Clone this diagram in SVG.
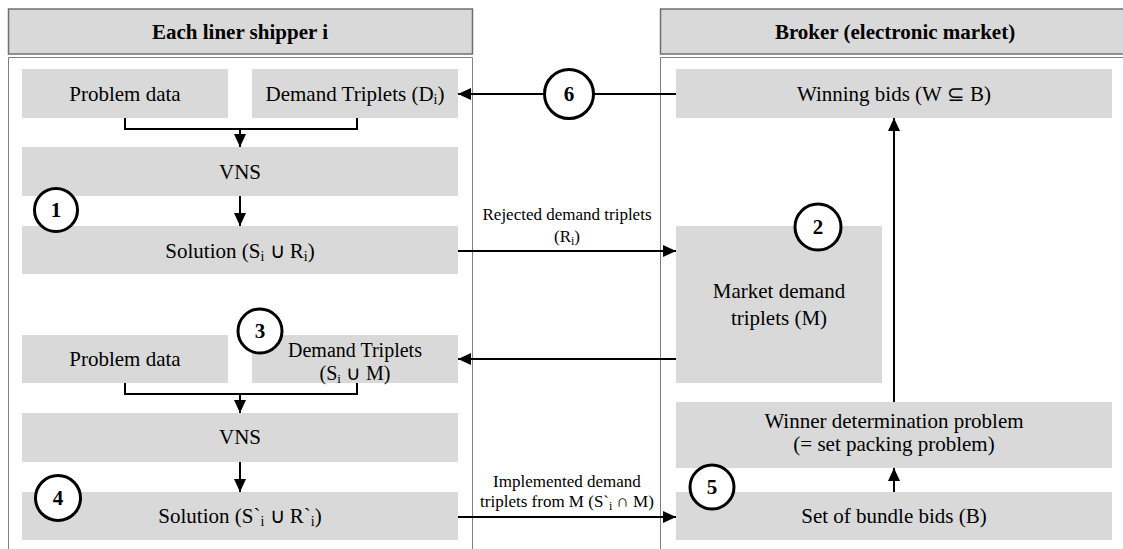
<svg xmlns="http://www.w3.org/2000/svg" width="1123" height="549" viewBox="0 0 1123 549">
<style>
.hdr{fill:#d9d9d9;stroke:#6f6f6f;stroke-width:1.5}
.panel{fill:none;stroke:#7f7f7f;stroke-width:1}
.box{fill:#d9d9d9}
text{font-family:"Liberation Serif","Times New Roman",serif;fill:#000}
.t{font-size:21px;text-anchor:middle}
.s{font-size:20px;text-anchor:middle}
.h{font-size:21px;font-weight:bold;text-anchor:middle}
.l{font-size:17px;text-anchor:middle}
.n{font-size:21px;font-weight:bold;text-anchor:middle}
.c{fill:#fff;stroke:#000;stroke-width:3}
.ln{fill:none;stroke:#000;stroke-width:2}
</style>
<defs>
<marker id="ah" markerUnits="userSpaceOnUse" markerWidth="14" markerHeight="12" refX="13" refY="6" orient="auto">
<path d="M0,0 L13,6 L0,12 Z" fill="#000"/>
</marker>
</defs>
<rect width="1123" height="549" fill="#fff"/>
<g id="panel-left">
<rect class="hdr" x="8.5" y="9" width="464" height="45"/>
<path class="panel" d="M8.5,549 V57.5 H472.5 V549"/>
<text class="h" x="240" y="39">Each liner shipper i</text>
</g>
<g id="panel-right">
<rect class="hdr" x="660.5" y="9" width="470" height="45"/>
<path class="panel" d="M660.5,549 V57.5 H1130"/>
<text class="h" x="895" y="39">Broker (electronic market)</text>
</g>
<g id="connectors">
<path class="ln" d="M125,118 V129 H357 V118"/>
<path class="ln" d="M240,129 V147" marker-end="url(#ah)"/>
<path class="ln" d="M240,196 V226" marker-end="url(#ah)"/>
<path class="ln" d="M458,251 H676" marker-end="url(#ah)"/>
<path class="ln" d="M676,94 H594"/>
<path class="ln" d="M544,94 H458" marker-end="url(#ah)"/>
<path class="ln" d="M676,359 H458" marker-end="url(#ah)"/>
<path class="ln" d="M125,383 V394 H357 V383"/>
<path class="ln" d="M240,394 V413" marker-end="url(#ah)"/>
<path class="ln" d="M240,462 V492" marker-end="url(#ah)"/>
<path class="ln" d="M458,517 H676" marker-end="url(#ah)"/>
<path class="ln" d="M894,492 V468" marker-end="url(#ah)"/>
<path class="ln" d="M894,402 V118" marker-end="url(#ah)"/>
<text class="l" x="567" y="220">Rejected demand triplets</text>
<text class="l" x="567" y="242">(R<tspan font-size="12" dy="3">i</tspan><tspan dy="-3">)</tspan></text>
<text class="l" x="567" y="487">Implemented demand</text>
<text class="l" x="567" y="507">triplets from M (S`<tspan font-size="12" dy="3">i</tspan><tspan dy="-3"> ∩ M)</tspan></text>
</g>
<g id="problem-data-1">
<rect class="box" x="22" y="69" width="206" height="49"/>
<text class="t" x="125" y="101">Problem data</text>
</g>
<g id="demand-triplets-1">
<rect class="box" x="252" y="69" width="206" height="49"/>
<text class="t" x="355" y="101">Demand Triplets (D<tspan font-size="14" dy="3">i</tspan><tspan dy="-3">)</tspan></text>
</g>
<g id="vns-1">
<rect class="box" x="22" y="147" width="436" height="49"/>
<text class="t" x="240" y="179">VNS</text>
</g>
<g id="solution-1">
<rect class="box" x="22" y="226" width="436" height="48"/>
<text class="t" x="240" y="258">Solution (S<tspan font-size="14" dy="3">i</tspan><tspan dy="-3"> ∪ R</tspan><tspan font-size="14" dy="3">i</tspan><tspan dy="-3">)</tspan></text>
</g>
<g id="problem-data-2">
<rect class="box" x="22" y="335" width="206" height="48"/>
<text class="t" x="125" y="366">Problem data</text>
</g>
<g id="demand-triplets-2">
<rect class="box" x="252" y="335" width="206" height="48"/>
<text class="s" x="355" y="357">Demand Triplets</text>
<text class="s" x="355" y="380">(S<tspan font-size="13" dy="3">i</tspan><tspan dy="-3"> ∪ M)</tspan></text>
</g>
<g id="vns-2">
<rect class="box" x="22" y="413" width="436" height="49"/>
<text class="t" x="240" y="444">VNS</text>
</g>
<g id="solution-2">
<rect class="box" x="22" y="492" width="436" height="48"/>
<text class="t" x="240" y="523">Solution (S`<tspan font-size="14" dy="3">i</tspan><tspan dy="-3"> ∪ R`</tspan><tspan font-size="14" dy="3">i</tspan><tspan dy="-3">)</tspan></text>
</g>
<g id="winning-bids">
<rect class="box" x="676" y="69" width="436" height="49"/>
<text class="t" x="894" y="101">Winning bids (W ⊆ B)</text>
</g>
<g id="market-demand">
<rect class="box" x="676" y="226" width="206" height="157"/>
<text class="t" x="779" y="298">Market demand</text>
<text class="t" x="779" y="325">triplets (M)</text>
</g>
<g id="winner-determination">
<rect class="box" x="676" y="402" width="436" height="66"/>
<text class="t" x="894" y="428">Winner determination problem</text>
<text class="t" x="894" y="451">(= set packing problem)</text>
</g>
<g id="bundle-bids">
<rect class="box" x="676" y="492" width="436" height="48"/>
<text class="t" x="894" y="523">Set of bundle bids (B)</text>
</g>
<g id="step-1"><circle class="c" cx="56" cy="210" r="21.5"/><text class="n" x="56" y="217">1</text></g>
<g id="step-2"><circle class="c" cx="818" cy="227" r="23"/><text class="n" x="818" y="234">2</text></g>
<g id="step-3"><circle class="c" cx="260" cy="331" r="22"/><text class="n" x="260" y="338">3</text></g>
<g id="step-4"><circle class="c" cx="58" cy="498" r="22.5"/><text class="n" x="58" y="505">4</text></g>
<g id="step-5"><circle class="c" cx="712" cy="487" r="22"/><text class="n" x="712" y="494">5</text></g>
<g id="step-6"><circle class="c" cx="569" cy="94" r="24.5"/><text class="n" x="569" y="101">6</text></g>
</svg>
